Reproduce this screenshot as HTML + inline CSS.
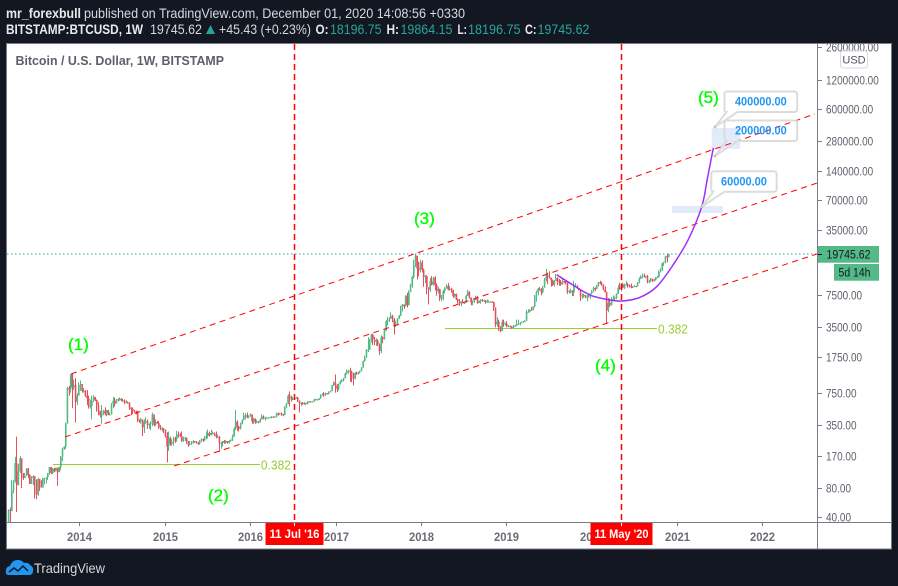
<!DOCTYPE html>
<html lang="en">
<head>
<meta charset="utf-8">
<title>BTCUSD weekly chart</title>
<style>
html,body{margin:0;padding:0;background:#131722;width:898px;height:586px;overflow:hidden}
svg{display:block;font-family:"Liberation Sans",sans-serif}
</style>
</head>
<body>
<svg id="chart" xmlns="http://www.w3.org/2000/svg" width="898" height="586" viewBox="0 0 898 586">
  <defs>
    <clipPath id="plot-clip"><rect x="7" y="44" width="810" height="478"/></clipPath>
    <clipPath id="axis-clip"><rect x="818" y="44" width="73" height="478"/></clipPath>
  </defs>
  <rect x="0" y="0" width="898" height="586" fill="#131722"/>
  <g font-size="14">
    <text x="6" y="18" fill="#e8e9ec" font-weight="bold" textLength="75" lengthAdjust="spacingAndGlyphs">mr_forexbull</text>
    <text x="84" y="18" fill="#d6d8de" textLength="381" lengthAdjust="spacingAndGlyphs">published on TradingView.com, December 01, 2020 14:08:56 +0330</text>
    <text x="6" y="34" fill="#e8e9ec" font-weight="bold" textLength="137" lengthAdjust="spacingAndGlyphs">BITSTAMP:BTCUSD, 1W</text>
    <text x="150" y="34" fill="#d6d8de" textLength="52" lengthAdjust="spacingAndGlyphs">19745.62</text>
    <polygon points="206,34 215,34 210.5,25" fill="#26a69a"/>
    <text x="219" y="34" fill="#d6d8de" textLength="92" lengthAdjust="spacingAndGlyphs">+45.43 (+0.23%)</text>
    <text x="315.5" y="34" fill="#e8e9ec" font-weight="bold" textLength="13" lengthAdjust="spacingAndGlyphs">O:</text>
    <text x="330" y="34" fill="#26a69a" textLength="51.5" lengthAdjust="spacingAndGlyphs">18196.75</text>
    <text x="386.5" y="34" fill="#e8e9ec" font-weight="bold" textLength="12.5" lengthAdjust="spacingAndGlyphs">H:</text>
    <text x="400.5" y="34" fill="#26a69a" textLength="52" lengthAdjust="spacingAndGlyphs">19864.15</text>
    <text x="457.5" y="34" fill="#e8e9ec" font-weight="bold" textLength="9.5" lengthAdjust="spacingAndGlyphs">L:</text>
    <text x="468" y="34" fill="#26a69a" textLength="52.5" lengthAdjust="spacingAndGlyphs">18196.75</text>
    <text x="525" y="34" fill="#e8e9ec" font-weight="bold" textLength="11.5" lengthAdjust="spacingAndGlyphs">C:</text>
    <text x="537.5" y="34" fill="#26a69a" textLength="52" lengthAdjust="spacingAndGlyphs">19745.62</text>
  </g>
  <rect x="6.5" y="43.5" width="885" height="505.5" fill="#ffffff" stroke="#787b86" stroke-width="1"/>
  <g id="bands" clip-path="url(#plot-clip)"></g>
  <g id="fibs" clip-path="url(#plot-clip)"></g>
  <g id="candles" clip-path="url(#plot-clip)"></g>
  <g id="overlays" clip-path="url(#plot-clip)"></g>
  <g id="callouts"></g>
  <text x="15.5" y="65" font-size="13" font-weight="bold" fill="#5d606b" textLength="208.5" lengthAdjust="spacingAndGlyphs">Bitcoin / U.S. Dollar, 1W, BITSTAMP</text>
  <g font-size="17" fill="#00ff00" stroke="#00ff00" stroke-width="0.35">
    <text x="68" y="350">(1)</text>
    <text x="208" y="501">(2)</text>
    <text x="414" y="224">(3)</text>
    <text x="595" y="371">(4)</text>
    <text x="698" y="103">(5)</text>
  </g>
  <line x1="817.5" y1="44" x2="817.5" y2="549" stroke="#787b86" stroke-width="1"/>
  <line x1="7" y1="522.5" x2="891" y2="522.5" stroke="#787b86" stroke-width="1"/>
  <g id="price-axis" clip-path="url(#axis-clip)"></g>
  <g id="time-axis"></g>
  <g>
    <rect x="840.5" y="51" width="27" height="17" rx="3" fill="#ffffff" stroke="#d9dae0"/>
    <text x="854" y="63.5" font-size="11" fill="#50535e" text-anchor="middle">USD</text>
  </g>
  <g>
    <rect x="818" y="246" width="61" height="16.7" fill="#53b987"/>
    <line x1="818" y1="254.5" x2="822" y2="254.5" stroke="#131722"/>
    <text x="826.5" y="258.5" font-size="11.5" fill="#131722" textLength="44" lengthAdjust="spacingAndGlyphs">19745.62</text>
    <rect x="834" y="264" width="45" height="16.7" fill="#53b987"/>
    <text x="838.5" y="276.5" font-size="11.5" fill="#131722" textLength="32" lengthAdjust="spacingAndGlyphs">5d 14h</text>
  </g>
  <g id="date-tags"></g>
  <g>
    <path d="M8 575q-3-1-2-5q0-3 4-4q2-6 8-6q4 0 6 3q4-1 6 2q4 2 3 6q0 4-4 4z" fill="#2196f3"/>
    <path d="M9 572l5-4l4 3l5-5l5 5" fill="none" stroke="#131722" stroke-width="1.5"/>
    <text x="34" y="573" font-size="14" fill="#d6d8de" textLength="71" lengthAdjust="spacingAndGlyphs">TradingView</text>
  </g>
</svg>
<script>
// Weekly closes, highs and lows from the week of 4 Mar 2013 to the week of 30 Nov 2020.
const closes = [
47,46,75,93,143,85,118,160,110,100,
105,125,108,87,100,105,90,68,98,95,
80,100,100,102,113,130,113,125,118,128,
115,130,165,200,210,360,840,810,1150,850,
900,600,700,900,
920,780,780,700,660,540,550,620,680,630,
560,490,440,440,490,460,500,440,450,570,
620,580,640,640,650,625,620,590,600,590,
530,510,490,480,470,400,380,400,330,380,
385,350,360,375,450,350,375,365,330,315,
320,315,
270,210,260,225,235,255,250,280,275,270,
240,255,260,235,220,225,235,240,235,230,
225,240,250,245,250,270,290,275,290,290,
280,265,265,230,230,240,230,240,230,240,
245,265,320,380,335,320,360,395,435,440,
420,430,
450,380,405,370,380,375,400,430,410,410,
415,415,420,425,420,425,460,450,460,450,
445,530,580,700,660,640,650,660,665,625,
590,590,580,590,575,610,610,605,610,640,
640,630,655,710,720,710,740,730,755,780,
890,960,
890,820,920,980,1010,1050,1180,1250,1260,1230,
1150,1040,1190,1180,1210,1250,1350,1580,1720,2050,
2050,2500,2950,2650,2500,2550,2350,2000,2750,2650,
3250,4050,4100,4300,4600,4200,3700,3700,4300,4600,
5650,5990,5750,7400,5900,8000,9300,11500,15000,19000,
14000,13500,
16200,13600,11500,11700,9000,8500,10300,9600,11300,9500,
8200,8600,6900,6900,8300,8900,9300,8500,8700,8500,
7350,7700,6750,6500,6150,6350,6250,6250,7400,8100,
7000,6300,6400,6700,7200,6200,6500,6700,6550,6600,
6300,6400,6400,6400,6350,5600,3750,4000,3500,3200,
4000,3800,3800,
3600,3600,3550,3450,3650,3650,3780,3800,3880,3950,
4000,4080,5050,5050,5300,5280,5700,7200,8000,8700,
8600,8000,8900,10700,11900,11500,11300,10600,9500,10400,
11300,10300,10100,9650,10400,10350,10000,8000,8200,8300,
7950,9200,9200,8800,8500,7300,7400,7500,7100,7250,
7250,7800,
8150,8900,8600,9350,10150,9900,9650,8500,8000,5200,
6200,5900,6850,6850,7050,7700,8900,8700,9700,8900,
9450,9650,9350,9300,9000,9050,9250,9200,9950,11050,
11600,11850,11650,11700,10250,10300,11000,10750,10650,11350,
11350,13100,13750,15950,16300,18700,18200,19745.62
];
const highs = [
48,50,96,96,165,266,140,168,150,113,
113,127,127,110,105,107,101,97,101,95,
95,101,100,102,113,130,130,127,128,128,
128,131,168,205,212,370,860,880,1165,1165,
1020,1060,740,960,
1000,840,840,800,800,700,640,700,710,650,
640,600,490,560,500,530,500,500,470,590,
680,670,650,660,670,660,650,640,630,610,
600,530,530,500,490,490,400,415,400,400,
420,400,365,380,470,420,400,385,385,350,
335,325,
300,295,300,265,250,265,265,305,300,290,
300,265,265,260,240,240,240,245,240,240,
235,245,255,255,270,300,315,300,315,300,
295,300,280,270,235,240,245,245,240,245,
250,280,335,500,390,345,370,400,470,465,
470,440,
460,450,415,410,395,385,410,450,440,425,
420,420,425,430,430,430,470,470,465,470,
455,545,590,720,770,700,680,680,680,680,
625,600,600,600,585,615,615,615,615,650,
650,645,660,720,740,760,750,745,775,790,
900,980,
1150,920,930,1000,1030,1060,1200,1290,1290,1350,
1260,1200,1220,1230,1230,1260,1370,1600,1800,2100,
2780,2660,3000,3000,2800,2700,2650,2400,2900,2830,
3350,4150,4450,4450,4980,4700,4350,4100,4350,4700,
5850,6100,6000,7450,7890,8400,9800,11800,17200,19666,
19000,16500,
17200,17000,14000,12000,11900,9000,11200,11700,11500,11700,
9900,9150,8700,7500,8500,9000,9750,9950,9300,8900,
8500,7800,7750,6900,6800,6500,6800,6400,7600,8500,
8200,7100,6600,6800,7400,7400,6600,6800,6800,6700,
6650,6750,6600,6450,6500,6400,5600,4450,4200,3600,
4200,4200,3900,
4050,3700,3650,3600,3700,3700,4200,4200,3950,4000,
4050,4150,5300,5350,5350,5650,5750,7500,8350,8900,
9050,8800,9300,11200,13850,12700,13150,11300,10800,10700,
12300,11400,10950,10700,10900,10450,10400,10050,8400,8700,
8400,10500,9950,9500,8900,8500,7800,7750,7450,7500,
7650,7850,
8450,9200,8950,9550,10200,10500,10250,9650,9200,8150,
7000,6900,7150,7450,7250,7800,9450,10050,9950,10000,
9800,10400,10000,9600,9800,9300,9500,9300,10150,11400,
11900,12450,12450,11800,12050,10750,11200,10950,10950,11450,
11750,13350,14100,16000,16500,18950,19450,19864.15
];
const lows = [
33,33,46,70,90,45,84,113,79,96,
100,105,100,87,87,85,62,61,66,74,
80,88,86,88,96,108,110,110,115,117,
83,115,120,150,195,199,360,700,750,520,
800,370,560,700,
780,750,750,680,560,515,515,400,600,615,
480,440,420,360,440,440,430,440,440,450,
520,540,600,610,620,610,610,575,590,580,
500,440,450,470,450,375,370,360,270,290,
360,320,320,310,340,340,340,360,320,310,
300,290,
260,145,190,215,215,215,230,235,260,265,
235,235,240,225,210,215,220,225,230,225,
220,220,235,235,240,265,255,265,275,280,
270,255,260,185,200,210,225,225,225,225,
235,240,265,310,305,300,315,355,390,400,
410,410,
425,360,360,360,365,365,370,400,400,390,
405,405,410,410,415,415,420,435,445,435,
430,440,520,570,540,610,630,630,650,600,
470,550,565,565,565,570,600,595,600,605,
630,630,630,650,700,680,695,720,720,755,
780,880,
750,760,790,910,960,975,1050,1150,1170,970,
960,890,1030,1140,1150,1180,1240,1350,1560,1700,
1950,2100,2450,2300,2300,2270,2250,1830,1900,2400,
2620,3200,3650,3980,4300,3950,2950,3520,3650,4250,
4550,5100,5370,5700,5600,5900,8000,8900,11000,14500,
10800,11600,
12800,12800,9100,9900,7650,6000,8100,9400,9300,8400,
7400,7800,6500,6500,6600,7800,8700,8400,8300,7900,
7050,7050,6650,6100,5800,5750,6150,6070,6250,7350,
6900,5900,5900,6250,6650,6100,6200,6100,6400,6400,
6100,6250,6350,6250,6300,5150,3500,3550,3220,3120,
3200,3550,3650,
3500,3500,3500,3380,3380,3550,3600,3700,3680,3850,
3950,3950,4080,4950,4950,5200,5200,5600,6400,7450,
8350,7450,7800,8950,10300,9700,11000,9100,9300,9100,
11000,9450,9350,9300,9550,9900,9600,7700,7800,7800,
7300,7300,8950,8650,8350,6500,6850,7050,6950,6450,
7050,6850,
7650,8000,8250,8600,9150,9650,9300,8400,8000,3850,
5000,5650,5850,6700,6500,6800,7650,8500,8200,8800,
8650,9300,8900,8950,8800,8900,9050,9000,9150,9900,
10950,11150,11350,11100,9900,9900,10250,10150,10350,10550,
11200,11350,12750,13200,14850,15800,16200,18196.75
];
const firstOpen = 35;

// Axis values and labels.
const priceTicks = [2600000,1200000,600000,280000,140000,70000,35000,7500,3500,1750,750,350,170,80,40];
const yearTicks = [2014,2015,2016,2017,2018,2019,2020,2021,2022];

// Trend channel ends, as week index and price.
const channelStartWeeks = [38.2,34.5,101.2];
const channelStartPrices = [1165,264,133];
const channelEndWeeks = [493.5,494.7,494.7];
const channelEndPrices = [536000,105000,19730];

// Drawing values.
const lastPrice = 19745.62;
const verticalWeeks = [175,375];
const verticalLabels = ["11 Jul '16","11 May '20"];
const fibStartWeeks = [27.2,267];
const fibEndWeeks = [153.8,396.8];
const fibPrices = [138.6,3448];
const fibLabels = ["0.382","0.382"];
const curveWeeks = [335.4,345.4,355.8,366,375.2,386.4,396.6,406.6,415.8,424.2,427.7,431.3];
const curvePrices = [12100,9490,7500,6780,6510,7100,9120,15200,27400,60200,118000,240000];
const calloutLabels = ["400000.00","200000.00","60000.00"];
const calloutWeeks = [432.3,432.3,424.2];
const calloutPrices = [394000,199000,60000];
const bandStartWeeks = [430.3,406];
const bandEndWeeks = [447.7,437.2];
const bandTopPrices = [384000,61200];
const bandBottomPrices = [235000,51800];

// Axis functions.
function xScale(week){ return 8.6 + 1.634 * week; }
function yScale(price){ return 517 - 29.4 * Math.log2(price / 40); }
function xYear(year){ return xScale((year - 2013.171) * 52.25); }

const NS = 'http://www.w3.org/2000/svg';
function make(tag, parentId, props, text){
  const el = document.createElementNS(NS, tag);
  for (const k in props) el.setAttribute(k, props[k]);
  if (text !== undefined) el.textContent = text;
  document.getElementById(parentId).appendChild(el);
  return el;
}
const f = v => v.toFixed(2);

// Price bands
bandStartWeeks.forEach((w, i) => {
  const el = make('rect', 'bands', {
    x: f(xScale(w)), y: f(yScale(bandTopPrices[i])),
    width: f(xScale(bandEndWeeks[i]) - xScale(w)),
    height: f(yScale(bandBottomPrices[i]) - yScale(bandTopPrices[i])),
    fill: '#e1ebfa'
  });
  
  
});

// Fibonacci levels
fibPrices.forEach((p, i) => {
  const y = Math.round(yScale(p)) + 0.5;
  const line = make('line', 'fibs', {
    x1: f(xScale(fibStartWeeks[i])), x2: f(xScale(fibEndWeeks[i])), y1: y, y2: y,
    stroke: '#9acd32', 'stroke-width': 1
  });
  
  
  const label = make('text', 'fibs', {
    x: f(xScale(fibEndWeeks[i]) + 1), y: y + 5, 'font-size': 13, fill: '#9acd32',
    textLength: 30, lengthAdjust: 'spacingAndGlyphs'
  }, fibLabels[i]);
  
  
});

// Candles
closes.forEach((c, i) => {
  const open = i === 0 ? firstOpen : closes[i - 1];
  const cx = xScale(i);
  const top = yScale(highs[i]);
  const bottom = yScale(lows[i]);
  const bodyTop = yScale(Math.max(open, c));
  const bodyBottom = Math.max(yScale(Math.min(open, c)), bodyTop + 1);
  const wx = Math.round(cx - 0.5);
  const d = 'M' + wx + ' ' + f(top) + 'h1V' + f(bottom) + 'h-1Z' +
            'M' + f(cx - 0.8) + ' ' + f(bodyTop) + 'h1.6V' + f(bodyBottom) + 'h-1.6Z';
  const el = make('path', 'candles', { d: d, fill: c >= open ? '#53b987' : '#eb4d5c' });
  
  
});

// Last price line
const lastLine = make('line', 'overlays', {
  x1: 7, x2: 817, y1: f(yScale(lastPrice)), y2: f(yScale(lastPrice)),
  stroke: '#26a69a', 'stroke-width': 1, 'stroke-dasharray': '1.5 2.5'
});



// Channels
channelStartWeeks.forEach((w, i) => {
  const el = make('line', 'overlays', {
    x1: f(xScale(w)), y1: f(yScale(channelStartPrices[i])),
    x2: f(xScale(channelEndWeeks[i])), y2: f(yScale(channelEndPrices[i])),
    stroke: '#ff0000', 'stroke-width': 1, 'stroke-dasharray': '6 4.5'
  });
  
  
});

// Vertical date lines
verticalWeeks.forEach(w => {
  const x = Math.floor(xScale(w)) + 0.5;
  const el = make('line', 'overlays', {
    x1: x, x2: x, y1: 44, y2: 522,
    stroke: '#ff0000', 'stroke-width': 1.5, 'stroke-dasharray': '6 4'
  });
  
  
});

// Purple projected curve through its points
(function(){
  const pts = curveWeeks.map((w, i) => [xScale(w), yScale(curvePrices[i])]);
  let d = 'M' + f(pts[0][0]) + ' ' + f(pts[0][1]);
  for (let i = 0; i < pts.length - 1; i++) {
    const p0 = pts[Math.max(i - 1, 0)], p1 = pts[i], p2 = pts[i + 1], p3 = pts[Math.min(i + 2, pts.length - 1)];
    d += 'C' + f(p1[0] + (p2[0] - p0[0]) / 6) + ' ' + f(p1[1] + (p2[1] - p0[1]) / 6) + ' ' +
         f(p2[0] - (p3[0] - p1[0]) / 6) + ' ' + f(p2[1] - (p3[1] - p1[1]) / 6) + ' ' +
         f(p2[0]) + ' ' + f(p2[1]);
  }
  const el = make('path', 'overlays', { d: d, fill: 'none', stroke: '#a030f5', 'stroke-width': 1.5 });
  
  
})();

// Callouts anchored to their target points
calloutLabels.forEach((label, i) => {
  const ax = xScale(calloutWeeks[i]);
  const ay = yScale(calloutPrices[i]);
  const w = label.length * 7.3 + 7;
  const h = 20.5;
  const bx = ax + 9.5;
  const by = ay - 35.5;
  const d = 'M' + f(bx + 3) + ' ' + f(by) + 'h' + f(w - 6) + 'q3 0 3 3v' + f(h - 6) + 'q0 3-3 3' +
            'H' + f(bx + 13) + 'L' + f(ax) + ' ' + f(ay) + 'L' + f(bx + 2) + ' ' + f(by + h) +
            'q-2 0-2-3v' + f(-(h - 6)) + 'q0-3 3-3Z';
  const box = make('path', 'callouts', { d: d, fill: 'none', stroke: '#dcdcdc', 'stroke-width': 2 });
  
  
  const dot = make('circle', 'callouts', { cx: f(ax), cy: f(ay), r: 1.5, fill: '#c4c4c4' });
  
  
  const text = make('text', 'callouts', {
    x: f(bx + w / 2), y: f(by + h / 2 + 4), 'font-size': 11.5, 'font-weight': 'bold',
    fill: '#2196f3', 'text-anchor': 'middle',
    textLength: f(label.length * 5.75), lengthAdjust: 'spacingAndGlyphs'
  }, label);
  
  
});

// Price axis
priceTicks.forEach(p => {
  const y = Math.round(yScale(p)) + 0.5;
  const tick = make('line', 'price-axis', { x1: 818, x2: 822, y1: y, y2: y, stroke: '#787b86' });
  
  
  const label = p.toFixed(2);
  const text = make('text', 'price-axis', {
    x: 826, y: y + 4, 'font-size': 11.5, fill: '#5d606b',
    textLength: f((label.length - 1) * 5.55 + 2.8), lengthAdjust: 'spacingAndGlyphs'
  }, label);
  
  
});

// Time axis
yearTicks.forEach(year => {
  const x = Math.round(xYear(year)) + 0.5;
  const tick = make('line', 'time-axis', { x1: x, x2: x, y1: 523, y2: 526, stroke: '#787b86' });
  
  
  const text = make('text', 'time-axis', {
    x: x, y: 541, 'font-size': 12, 'font-weight': 'bold', fill: '#6a6d78', 'text-anchor': 'middle',
    textLength: 25, lengthAdjust: 'spacingAndGlyphs'
  }, String(year));
  
  
});

// Red date tags
verticalWeeks.forEach((w, i) => {
  const x = Math.floor(xScale(w)) + 0.5;
  const boxWidth = verticalLabels[i].indexOf('May') >= 0 ? 62 : 58;
  const box = make('rect', 'date-tags', { x: x - boxWidth / 2, y: 523, width: boxWidth, height: 22, fill: '#ff0000' });
  
  
  const tick = make('line', 'date-tags', { x1: x, x2: x, y1: 523, y2: 526, stroke: '#ffffff' });
  
  
  const text = make('text', 'date-tags', {
    x: x, y: 538, 'font-size': 11.5, 'font-weight': 'bold', fill: '#ffffff', 'text-anchor': 'middle',
    textLength: boxWidth - 8, lengthAdjust: 'spacingAndGlyphs'
  }, verticalLabels[i]);
  
  
});
</script>
</body>
</html>
